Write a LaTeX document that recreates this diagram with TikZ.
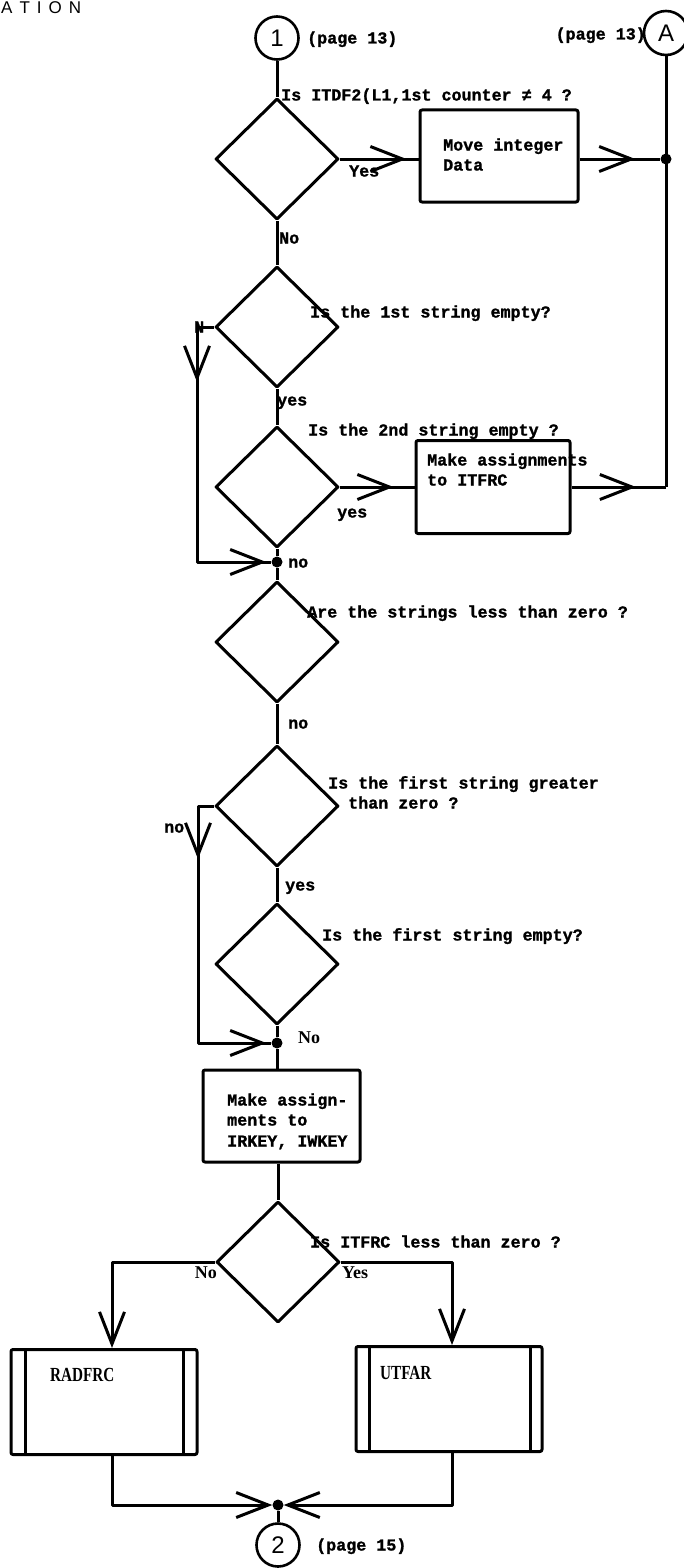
\documentclass[tikz,border=0pt]{standalone}
\usepackage{fontspec}
\setmainfont{Liberation Mono}[BoldFeatures={FakeBold=1.2}]
\newfontfamily\pfont[FakeStretch=0.76]{Liberation Serif}
\newfontfamily\sfont{Liberation Serif}
\newfontfamily\hfont{Liberation Sans}
\usetikzlibrary{shapes.geometric,arrows.meta,decorations.markings}
\tikzset{
  barb/.tip={Straight Barb[length=32pt,width=25pt]},
  ln/.style={line width=3pt, line join=round},
  dia/.style={draw, ln, diamond, minimum width=123pt, minimum height=121pt, inner sep=0pt},
  pbox/.style={draw, ln, rectangle, rounded corners=2pt, inner sep=0pt},
  conn/.style={draw, line width=2.6pt, circle, minimum size=43pt, inner sep=0pt, font=\hfont\fontsize{24}{24}\selectfont},
  dot/.style={circle, fill, minimum size=11pt, inner sep=0pt},
  lbl/.style={font=\fontsize{16.7}{20}\selectfont\bfseries, inner sep=0pt, anchor=west, text height=11pt, text depth=0pt},
  plbl/.style={font=\pfont\fontsize{20}{20}\selectfont\bfseries, inner sep=0pt, anchor=west, text height=13pt, text depth=0pt},
  slbl/.style={font=\sfont\fontsize{18}{20}\selectfont\bfseries, inner sep=0pt, anchor=west, text height=12pt, text depth=0pt},
  arr/.style={postaction={decorate,decoration={markings,mark=at position #1 with {\arrow{barb}}}}},
}
\begin{document}
\begin{tikzpicture}[x=1pt,y=-1pt]
\useasboundingbox (0,0) rectangle (684,1568);
% heading fragment
\node[font=\hfont\fontsize{17}{17}\selectfont, inner sep=0pt, anchor=base west] (head) at (1,14) {A\kern7pt T\kern7pt I\kern7pt O\kern7pt N};
% connectors
\node[conn] (c1) at (277,38) {1};
\node[conn, minimum size=44pt] (cA) at (666,33) {A};
\node[lbl] (p1) at (307,38) {(page 13)};
\node[lbl, anchor=east] (pA) at (646,34) {(page 13)};
% decisions
\node[dia] (d1) at (277,159) {};
\node[dia] (d2) at (277,327) {};
\node[dia] (d3) at (277,487) {};
\node[dia] (d4) at (277,642) {};
\node[dia] (d5) at (277,806) {};
\node[dia] (d6) at (277,964) {};
\node[dia] (d7) at (278,1262) {};
% boxes
\node[pbox, minimum width=158pt, minimum height=92pt] (b1) at (499,156) {};
\node[pbox, minimum width=154pt, minimum height=93pt] (b2) at (493,487) {};
\node[pbox, minimum width=157pt, minimum height=92pt] (b3) at (281.5,1116) {};
\node[pbox, minimum width=186pt, minimum height=105pt] (rad) at (104,1402) {};
\node[pbox, minimum width=186pt, minimum height=105pt] (ut) at (449,1399) {};
\draw[ln] ([xshift=16]rad.north west) -- ([xshift=16]rad.south west);
\draw[ln] ([xshift=-15]rad.north east) -- ([xshift=-15]rad.south east);
\draw[ln] ([xshift=15]ut.north west) -- ([xshift=15]ut.south west);
\draw[ln] ([xshift=-13]ut.north east) -- ([xshift=-13]ut.south east);
% junctions
\node[dot] (jA) at (666,159) {};
\coordinate (c2) at (666,487);
\node[dot] (j1) at (277,562) {};
\node[dot] (j3) at (277,1043) {};
\node[dot] (j4) at (278,1505) {};
\node[conn] (cB) at (278,1545) {2};
% texts
\node[lbl] (t1) at (281,95) {Is ITDF2(L1,1st counter ≠ 4 ?};
\node[lbl] (t2) at (310,312) {Is the 1st string empty?};
\node[lbl] (t3) at (308,430) {Is the 2nd string empty ?};
\node[lbl] (t4) at (307,612) {Are the strings less than zero ?};
\node[lbl] (t5a) at (328,783) {Is the first string greater};
\node[lbl] (t5b) at (348,803) {than zero ?};
\node[lbl] (t6) at (322,935) {Is the first string empty?};
\node[lbl] (t7) at (310,1242) {Is ITFRC less than zero ?};
\node[lbl] (b1a) at (443,145) {Move integer};
\node[lbl] (b1b) at (443,165) {Data};
\node[lbl] (b2a) at (427,460) {Make assignments};
\node[lbl] (b2b) at (427,480) {to ITFRC};
\node[lbl] (b3a) at (227,1100) {Make assign-};
\node[lbl] (b3b) at (227,1120) {ments to};
\node[lbl] (b3c) at (227,1141) {IRKEY, IWKEY};
\node[plbl] (radt) at (50,1375) {RADFRC};
\node[plbl] (utt) at (380,1373) {UTFAR};
% branch labels
\node[lbl] (y1) at (349,171) {Yes};
\node[lbl] (n1) at (279,238) {No};
\node[lbl] (n2) at (194,327) {N};
\node[lbl] (y2) at (277,400) {yes};
\node[lbl] (y3) at (337,512) {yes};
\node[lbl] (n3) at (288,562) {no};
\node[lbl] (n4) at (288,723) {no};
\node[lbl] (n5) at (164,827) {no};
\node[lbl] (y5) at (285,885) {yes};
\node[slbl] (n6) at (298,1037) {No};
\node[slbl, anchor=east] (n7) at (217,1272) {No};
\node[slbl] (y7) at (342,1272) {Yes};
\node[lbl] (p15) at (316,1545) {(page 15)};
% connectors
\draw[ln] (c1) -- (d1.north);
\draw[ln, arr=-12pt] (d1.east) -- (d1.east -| b1.west);
\draw[ln, arr=-25pt] (d1.east -| b1.east) -- (jA);
\draw[ln] (cA) -- (c2);
\draw[ln] (d1.south) -- (d2.north);
\draw[ln, arr=72pt, arr=-5pt] (d2.west) -- ++(-17,0) |- (j1);
\draw[ln] (d2.south) -- (d3.north);
\draw[ln, arr=-21pt] (d3.east) -- (d3.east -| b2.west);
\draw[ln, arr=-30pt] (b2.east) -- (c2);
\draw[ln] (d3.south) -- (j1);
\draw[ln] (j1) -- (d4.north);
\draw[ln] (d4.south) -- (d5.north);
\draw[ln, arr=69pt, arr=-5pt] (d5.west) -- ++(-16,0) |- (j3);
\draw[ln] (d5.south) -- (d6.north);
\draw[ln] (d6.south) -- (j3);
\draw[ln] (j3) -- (j3 |- b3.north);
\draw[ln] (d7.north |- b3.south) -- (d7.north);
\draw[ln, -{barb}] (d7.west) -| ([xshift=8]rad.north);
\draw[ln, -{barb}] (d7.east) -| ([xshift=3]ut.north);
\draw[ln, -{barb}] ([xshift=8]rad.south) |- (j4);
\draw[ln, -{barb}] ([xshift=3]ut.south) |- (j4);
\draw[ln] (j4) -- (cB);
\end{tikzpicture}
\end{document}
